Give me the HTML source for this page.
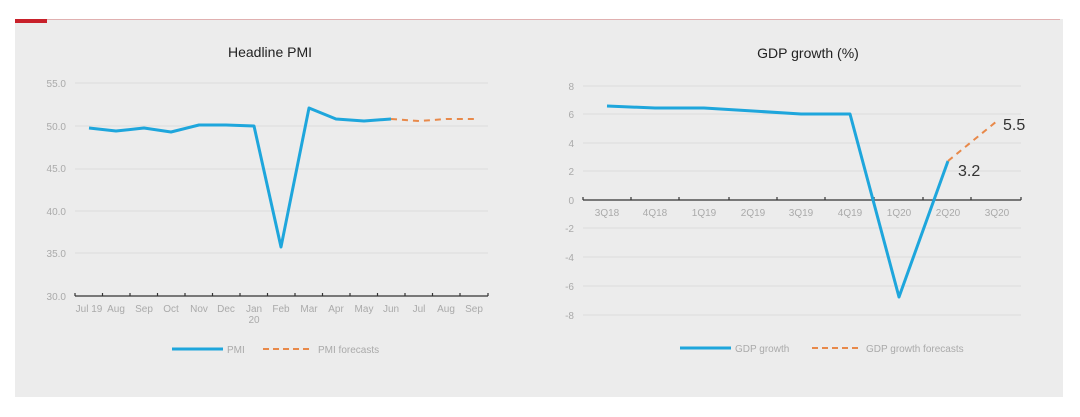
<!DOCTYPE html>
<html><head><meta charset="utf-8"><style>
body{margin:0;background:#fff;width:1080px;height:417px;overflow:hidden}
svg{display:block;font-family:"Liberation Sans",sans-serif}
</style></head><body>
<svg width="1080" height="417" viewBox="0 0 1080 417">
<rect x="15" y="19" width="1048" height="378" fill="#ececec"/>
<line x1="15" y1="19.5" x2="1060" y2="19.5" stroke="#e0b0b0" stroke-width="1"/>
<rect x="15" y="19" width="32" height="4" fill="#c8202a"/>
<!-- Left chart -->
<text x="270" y="57" font-size="14" text-anchor="middle" fill="#222">Headline PMI</text>
<g stroke="#dcdcdc" stroke-width="1">
<line x1="75" y1="83" x2="488" y2="83"/><line x1="75" y1="126" x2="488" y2="126"/>
<line x1="75" y1="169" x2="488" y2="169"/><line x1="75" y1="211" x2="488" y2="211"/>
<line x1="75" y1="253" x2="488" y2="253"/></g>
<g font-size="10" fill="#aaa" text-anchor="end">
<text x="66" y="87">55.0</text><text x="66" y="130">50.0</text><text x="66" y="172">45.0</text>
<text x="66" y="215">40.0</text><text x="66" y="257">35.0</text><text x="66" y="300">30.0</text></g>
<line x1="75" y1="296" x2="488" y2="296" stroke="#333" stroke-width="1.2"/>
<g stroke="#333" stroke-width="1.2">
<line x1="75" y1="296" x2="75" y2="293"/><line x1="102.5" y1="296" x2="102.5" y2="293"/><line x1="130" y1="296" x2="130" y2="293"/><line x1="157.5" y1="296" x2="157.5" y2="293"/><line x1="185" y1="296" x2="185" y2="293"/><line x1="212.5" y1="296" x2="212.5" y2="293"/><line x1="240" y1="296" x2="240" y2="293"/><line x1="267.5" y1="296" x2="267.5" y2="293"/><line x1="295" y1="296" x2="295" y2="293"/><line x1="322.5" y1="296" x2="322.5" y2="293"/><line x1="350" y1="296" x2="350" y2="293"/><line x1="377.5" y1="296" x2="377.5" y2="293"/><line x1="405" y1="296" x2="405" y2="293"/><line x1="432.5" y1="296" x2="432.5" y2="293"/><line x1="460" y1="296" x2="460" y2="293"/><line x1="488" y1="296" x2="488" y2="293"/></g>
<g font-size="10" fill="#aaa" text-anchor="middle">
<text x="89" y="312">Jul 19</text><text x="116" y="312">Aug</text><text x="144" y="312">Sep</text><text x="171" y="312">Oct</text><text x="199" y="312">Nov</text><text x="226" y="312">Dec</text><text x="254" y="312">Jan</text><text x="254" y="323">20</text><text x="281" y="312">Feb</text><text x="309" y="312">Mar</text><text x="336" y="312">Apr</text><text x="364" y="312">May</text><text x="391" y="312">Jun</text><text x="419" y="312">Jul</text><text x="446" y="312">Aug</text><text x="474" y="312">Sep</text></g>
<polyline fill="none" stroke="#1ea6dc" stroke-width="3" stroke-linejoin="round" points="89,128 116,131 144,128 171,132 199,125 226,125 254,126 281,247 309,108 336,119 364,121 391,119"/>
<polyline fill="none" stroke="#e8894a" stroke-width="2" stroke-dasharray="6,5" points="391,119 419,121 446,119 474,119"/>
<line x1="172" y1="349" x2="223" y2="349" stroke="#1ea6dc" stroke-width="3"/>
<text x="227" y="353" font-size="10" fill="#aaa">PMI</text>
<line x1="263" y1="349" x2="313" y2="349" stroke="#e8894a" stroke-width="2" stroke-dasharray="6,4"/>
<text x="318" y="353" font-size="10" fill="#aaa">PMI forecasts</text>
<!-- Right chart -->
<text x="808" y="58" font-size="14" text-anchor="middle" fill="#222">GDP growth (%)</text>
<g stroke="#dcdcdc" stroke-width="1">
<line x1="583" y1="86" x2="1021" y2="86"/><line x1="583" y1="114" x2="1021" y2="114"/><line x1="583" y1="143" x2="1021" y2="143"/><line x1="583" y1="171" x2="1021" y2="171"/><line x1="583" y1="228" x2="1021" y2="228"/><line x1="583" y1="257" x2="1021" y2="257"/><line x1="583" y1="286" x2="1021" y2="286"/><line x1="583" y1="315" x2="1021" y2="315"/></g>
<g font-size="10" fill="#aaa" text-anchor="end">
<text x="574" y="90">8</text><text x="574" y="118">6</text><text x="574" y="147">4</text><text x="574" y="175">2</text><text x="574" y="204">0</text><text x="574" y="232">-2</text><text x="574" y="261">-4</text><text x="574" y="290">-6</text><text x="574" y="319">-8</text></g>
<line x1="583" y1="200" x2="1021" y2="200" stroke="#333" stroke-width="1.2"/>
<g stroke="#333" stroke-width="1.2">
<line x1="583" y1="200" x2="583" y2="197"/><line x1="631" y1="200" x2="631" y2="197"/><line x1="679" y1="200" x2="679" y2="197"/><line x1="729" y1="200" x2="729" y2="197"/><line x1="777" y1="200" x2="777" y2="197"/><line x1="825" y1="200" x2="825" y2="197"/><line x1="874" y1="200" x2="874" y2="197"/><line x1="923" y1="200" x2="923" y2="197"/><line x1="971" y1="200" x2="971" y2="197"/><line x1="1021" y1="200" x2="1021" y2="197"/></g>
<g font-size="10" fill="#aaa" text-anchor="middle">
<text x="607" y="216">3Q18</text><text x="655" y="216">4Q18</text><text x="704" y="216">1Q19</text><text x="753" y="216">2Q19</text><text x="801" y="216">3Q19</text><text x="850" y="216">4Q19</text><text x="899" y="216">1Q20</text><text x="948" y="216">2Q20</text><text x="997" y="216">3Q20</text></g>
<polyline fill="none" stroke="#1ea6dc" stroke-width="3" stroke-linejoin="round" points="607,106 655,108 704,108 753,111 801,114 850,114 899,297 948,161"/>
<polyline fill="none" stroke="#e8894a" stroke-width="2" stroke-dasharray="6,5" points="948,161 997,121"/>
<text x="958" y="176" font-size="16" fill="#333">3.2</text>
<text x="1003" y="130" font-size="16" fill="#333">5.5</text>
<line x1="680" y1="348" x2="731" y2="348" stroke="#1ea6dc" stroke-width="3"/>
<text x="735" y="352" font-size="10" fill="#aaa">GDP growth</text>
<line x1="812" y1="348" x2="862" y2="348" stroke="#e8894a" stroke-width="2" stroke-dasharray="6,4"/>
<text x="866" y="352" font-size="10" fill="#aaa">GDP growth forecasts</text>
</svg>
</body></html>
